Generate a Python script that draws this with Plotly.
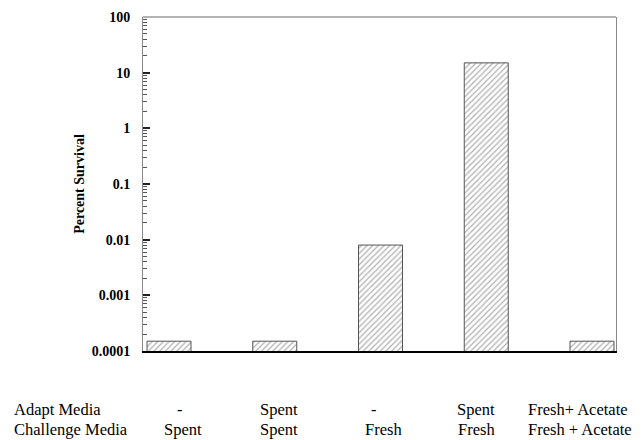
import plotly.graph_objects as go

# ---- data ----
conditions = ["C1", "C2", "C3", "C4", "C5"]
percent_survival = [0.00015, 0.00015, 0.008, 15, 0.00015]
adapt_media = ["-", "Spent", "-", "Spent", "Fresh+ Acetate"]
challenge_media = ["Spent", "Spent", "Fresh", "Fresh", "Fresh + Acetate"]

W, H = 642, 440
L, R, T, B = 143, 26, 17, 89
pw = W - L - R
ph = H - T - B

def px_to_paper_x(px):
    return (px - L) / pw

def py_to_paper_y(py):
    return (H - B - py) / ph

fig = go.Figure()
fig.add_trace(go.Bar(
    x=conditions,
    y=percent_survival,
    width=0.416,
    marker=dict(
        color="white",
        line=dict(color="#555555", width=1),
        pattern=dict(shape="/", fgcolor="#6e6e6e", bgcolor="white",
                     size=4, solidity=0.35),
    ),
    showlegend=False,
))

serif = "Liberation Serif, Times New Roman, serif"

fig.update_layout(
    width=W, height=H,
    margin=dict(l=L, r=R, t=T, b=B, autoexpand=False),
    paper_bgcolor="white",
    plot_bgcolor="white",
    font=dict(family=serif, color="black"),
    xaxis=dict(
        type="category",
        range=[-0.246, 4.227],
        showticklabels=False,
        ticks="",
        showgrid=False,
        zeroline=False,
        showline=True,
        linecolor="black",
        linewidth=1.5,
    ),
    yaxis=dict(
        type="log",
        range=[-4, 2],
        tickmode="linear",
        tick0=0,
        dtick=1,
        exponentformat="none",
        tickfont=dict(family=serif, size=14, color="black", weight="bold"),
        ticks="inside",
        ticklen=7,
        tickwidth=1.5,
        tickcolor="#222222",
        ticklabelstandoff=9,
        minor=dict(dtick="D1", ticks="inside", ticklen=4, tickwidth=1,
                   tickcolor="#555555", showgrid=False),
        showgrid=False,
        zeroline=False,
        showline=True,
        linecolor="#888888",
        linewidth=1,
        mirror=True,
        title=dict(text="Percent Survival",
                   font=dict(family=serif, size=14, color="black", weight="bold"),
                   standoff=3),
    ),
    shapes=[dict(type="line", xref="paper", yref="paper", x0=0, x1=1, y0=1, y1=1,
                 line=dict(color="#666666", width=1))],
)

# table of media labels below the chart
row_y = [py_to_paper_y(409), py_to_paper_y(429)]
adapt_px = [180, 279, 374, 476, 578]
challenge_px = [183, 279, 383, 476, 580]
fs = 16.5
annotations = []
annotations.append(dict(text="Adapt Media", x=px_to_paper_x(12), y=row_y[0],
                        xref="paper", yref="paper", xanchor="left", yanchor="middle",
                        showarrow=False, font=dict(family=serif, size=fs)))
annotations.append(dict(text="Challenge Media", x=px_to_paper_x(12), y=row_y[1],
                        xref="paper", yref="paper", xanchor="left", yanchor="middle",
                        showarrow=False, font=dict(family=serif, size=fs)))
for txt, px in zip(adapt_media, adapt_px):
    annotations.append(dict(text=txt, x=px_to_paper_x(px), y=row_y[0],
                            xref="paper", yref="paper", xanchor="center", yanchor="middle",
                            showarrow=False, font=dict(family=serif, size=fs)))
for txt, px in zip(challenge_media, challenge_px):
    annotations.append(dict(text=txt, x=px_to_paper_x(px), y=row_y[1],
                            xref="paper", yref="paper", xanchor="center", yanchor="middle",
                            showarrow=False, font=dict(family=serif, size=fs)))
fig.update_layout(annotations=annotations)

fig.write_html("out.html", config={"displayModeBar": False},
               post_script="document.body.style.margin='0';")
